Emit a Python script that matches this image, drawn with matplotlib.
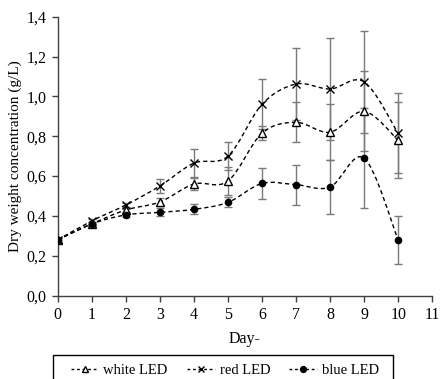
import numpy as np
import matplotlib
matplotlib.use("Agg")
import matplotlib.pyplot as plt
from matplotlib.path import Path
from matplotlib.patches import PathPatch, Rectangle
from matplotlib.lines import Line2D
from matplotlib.ticker import FuncFormatter

plt.rcParams['font.family'] = ['Liberation Serif', 'DejaVu Serif']

# data
days = [0, 1, 2, 3, 4, 5, 6, 7, 8, 9, 10]
white = [0.28, 0.36, 0.43, 0.47, 0.56, 0.575, 0.815, 0.87, 0.82, 0.925, 0.78]
white_err = [0.01, 0.01, 0.01, 0.02, 0.03, 0.07, 0.035, 0.10, 0.14, 0.20, 0.19]
red = [0.28, 0.375, 0.455, 0.55, 0.665, 0.70, 0.96, 1.062, 1.037, 1.073, 0.815]
red_err = [0.01, 0.01, 0.01, 0.035, 0.07, 0.07, 0.125, 0.18, 0.255, 0.255, 0.20]
blue = [0.28, 0.36, 0.405, 0.418, 0.433, 0.468, 0.563, 0.557, 0.545, 0.69, 0.28]
blue_err = [0.01, 0.01, 0.01, 0.02, 0.025, 0.025, 0.08, 0.10, 0.135, 0.25, 0.12]
labels = ['white LED', 'red LED', 'blue LED']


def smooth_path(x, y):
    # Excel-like smoothed line: Catmull-Rom turned into cubic Bezier segments
    x = np.asarray(x, float)
    y = np.asarray(y, float)
    n = len(x)
    verts = [(x[0], y[0])]
    codes = [Path.MOVETO]
    for i in range(n - 1):
        x0, y0 = (x[i - 1], y[i - 1]) if i > 0 else (x[i], y[i])
        x3, y3 = (x[i + 2], y[i + 2]) if i + 2 < n else (x[i + 1], y[i + 1])
        c1 = (x[i] + (x[i + 1] - x0) / 6, y[i] + (y[i + 1] - y0) / 6)
        c2 = (x[i + 1] - (x3 - x[i]) / 6, y[i + 1] - (y3 - y[i]) / 6)
        verts += [c1, c2, (x[i + 1], y[i + 1])]
        codes += [Path.CURVE4] * 3
    return Path(verts, codes)


fig = plt.figure(figsize=(4.41, 3.79), dpi=100)
ax = fig.add_axes([0.131, 0.22, 0.849, 0.736])

series = [
    (white, white_err, dict(marker='^', markersize=5.5, markerfacecolor='white',
                            markeredgecolor='black', markeredgewidth=1.0)),
    (red, red_err, dict(marker='x', markersize=5.5, markeredgecolor='black',
                        markeredgewidth=1.0)),
    (blue, blue_err, dict(marker='o', markersize=4.5, markerfacecolor='black',
                          markeredgecolor='black')),
]

handles = []
for (vals, err, mk), lab in zip(series, labels):
    ax.errorbar(days, vals, yerr=err, fmt='none', ecolor='#7a7a7a',
                elinewidth=1.0, capsize=3, capthick=1.0, zorder=2)
    patch = PathPatch(smooth_path(days, vals), facecolor='none',
                      edgecolor='black', linestyle=(0, (3, 2.2)), lw=1.0,
                      zorder=3)
    ax.add_patch(patch)
    ax.plot(days, vals, linestyle='none', zorder=4, **mk)
    handles.append(Line2D([], [], color='black', linestyle=(0, (2, 2)),
                          lw=1.0, label=lab, **{**mk, 'markersize': 4.2}))

ax.set_xlim(0, 11)
ax.set_ylim(0, 1.4)
ax.set_xticks(range(0, 12))
ax.set_yticks(np.arange(0, 1.41, 0.2))
ax.yaxis.set_major_formatter(FuncFormatter(lambda v, p: f"{v:.1f}".replace('.', ',')))
for s in ['top', 'right']:
    ax.spines[s].set_visible(False)
for s in ['left', 'bottom']:
    ax.spines[s].set_color('#404040')
    ax.spines[s].set_linewidth(1.0)
ax.tick_params(direction='out', length=4, width=1.0, color='#404040',
               labelsize=11.5, pad=4)
ax.set_xlabel('Day-', fontsize=11.5, labelpad=6)
ax.set_ylabel('Dry weight concentration (g/L)', fontsize=11)
ax.yaxis.set_label_coords(-0.095, 0.5)

# legend without its own frame; box drawn separately, cut by the bottom edge
leg = fig.legend(handles=handles, loc='center', ncol=3,
                 bbox_to_anchor=(0.510, 0.0237), fontsize=10.5, frameon=False,
                 handlelength=1.9, handletextpad=0.35, columnspacing=1.3,
                 borderpad=0, borderaxespad=0)
fig.add_artist(Rectangle((0.1195, -0.05), 0.7717, 0.1133,
                         transform=fig.transFigure, facecolor='none',
                         edgecolor='black', lw=1.0))

fig.savefig('out.png', dpi=100)
